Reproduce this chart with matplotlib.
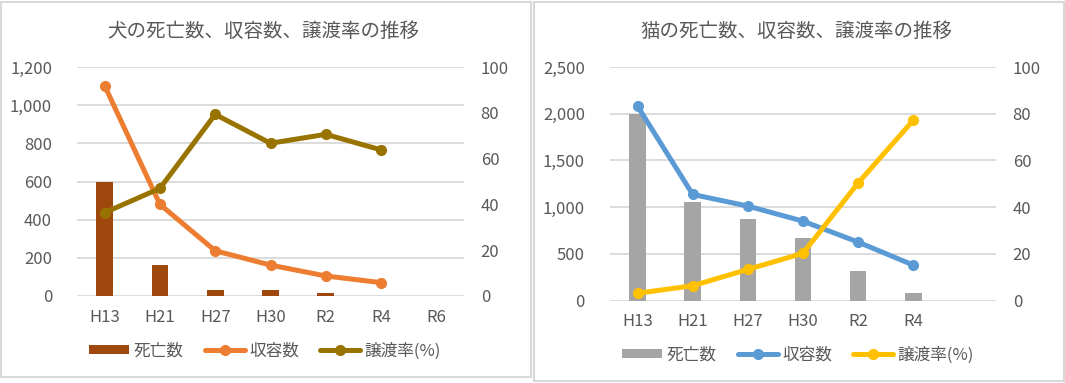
import matplotlib
matplotlib.use("Agg")
import matplotlib.pyplot as plt
from matplotlib.patches import Rectangle
from matplotlib.ticker import FuncFormatter

plt.rcParams['font.family'] = ['Noto Sans CJK JP', 'DejaVu Sans']

# ---- data ----
categories_dog = ['H13', 'H21', 'H27', 'H30', 'R2', 'R4', 'R6']
dog_deaths = [595, 162, 31, 31, 17, 0, None]
dog_intake = [1102, 480, 237, 162, 105, 70, None]
dog_adopt_rate = [36.4, 47.0, 79.3, 66.7, 70.6, 63.8, None]

categories_cat = ['H13', 'H21', 'H27', 'H30', 'R2', 'R4', '']
cat_deaths = [2000, 1058, 873, 670, 317, 82, None]
cat_intake = [2080, 1137, 1012, 851, 627, 381, None]
cat_adopt_rate = [3.2, 6.4, 13.4, 20.3, 50.4, 77.2, None]

dog_left_ticks = [0, 200, 400, 600, 800, 1000, 1200]
cat_left_ticks = [0, 500, 1000, 1500, 2000, 2500]
right_ticks = [0, 20, 40, 60, 80, 100]

W, H = 1065, 383
fig = plt.figure(figsize=(W / 100, H / 100), dpi=100)

TXT = '#595959'
GRID = '#D9D9D9'


def clean(vals):
    return [float('nan') if v is None else v for v in vals]


def panel(rect_px, title, cats, deaths, intake, rate, lticks, lmax,
          bar_c, int_c, rate_c, title_xy, legend_xy):
    x0, y0, x1, y1 = rect_px
    ax = fig.add_axes([x0 / W, 1 - y1 / H, (x1 - x0) / W, (y1 - y0) / H])
    ax2 = ax.twinx()
    xs = list(range(len(cats)))
    b = ax.bar(xs, clean(deaths), width=0.30, color=bar_c, label='死亡数', zorder=2)
    l1, = ax.plot(xs, clean(intake), color=int_c, lw=3.6, marker='o', ms=7,
                  label='収容数', zorder=3, solid_capstyle='round')
    l2, = ax2.plot(xs, clean(rate), color=rate_c, lw=3.6, marker='o', ms=7,
                   label='譲渡率(%)', zorder=3, solid_capstyle='round')
    ax.set_xlim(-0.5, len(cats) - 0.5)
    ax.set_ylim(0, lmax)
    ax2.set_ylim(0, 100)
    ax.set_yticks(lticks)
    ax2.set_yticks(right_ticks)
    ax.yaxis.set_major_formatter(FuncFormatter(lambda v, p: f'{int(v):,}'))
    ax.set_xticks(xs)
    ax.set_xticklabels(cats)
    for a in (ax, ax2):
        for s in a.spines.values():
            s.set_visible(False)
        a.tick_params(length=0, colors=TXT, labelsize=12)
    ax.tick_params(axis='y', pad=18)
    ax2.tick_params(axis='y', pad=12)
    ax.tick_params(axis='x', pad=9)
    ax.yaxis.grid(True, color=GRID, lw=1.3, zorder=0)
    ax.set_axisbelow(True)
    ax.patch.set_alpha(0)
    fig.text(title_xy[0] / W, 1 - title_xy[1] / H, title, ha='center', va='center',
             fontsize=14, color=TXT)
    fig.legend([b, l1, l2], ['死亡数', '収容数', '譲渡率(%)'], loc='center',
               bbox_to_anchor=(legend_xy[0] / W, 1 - legend_xy[1] / H), ncol=3,
               frameon=False, fontsize=12, labelcolor=TXT, handlelength=2.4,
               handleheight=0.45, handletextpad=0.25, columnspacing=1.3)


# panel borders
fig.add_artist(Rectangle((1 / W, 1 - 377 / H), 530 / W, 375 / H, transform=fig.transFigure,
                         fill=False, edgecolor='#D9D9D9', lw=1.5))
fig.add_artist(Rectangle((534 / W, 1 - 381 / H), 529.5 / W, 379 / H, transform=fig.transFigure,
                         fill=False, edgecolor='#D9D9D9', lw=1.5))

panel((77, 67, 464, 296), '犬の死亡数、収容数、譲渡率の推移', categories_dog,
      dog_deaths, dog_intake, dog_adopt_rate, dog_left_ticks, 1200,
      '#9E480E', '#ED7D31', '#997300', (263, 31), (265, 351))
panel((610, 67, 996, 300.7), '猫の死亡数、収容数、譲渡率の推移', categories_cat,
      cat_deaths, cat_intake, cat_adopt_rate, cat_left_ticks, 2500,
      '#A5A5A5', '#5B9BD5', '#FFC000', (796, 31), (798, 355))

fig.savefig('out.png', dpi=100)
